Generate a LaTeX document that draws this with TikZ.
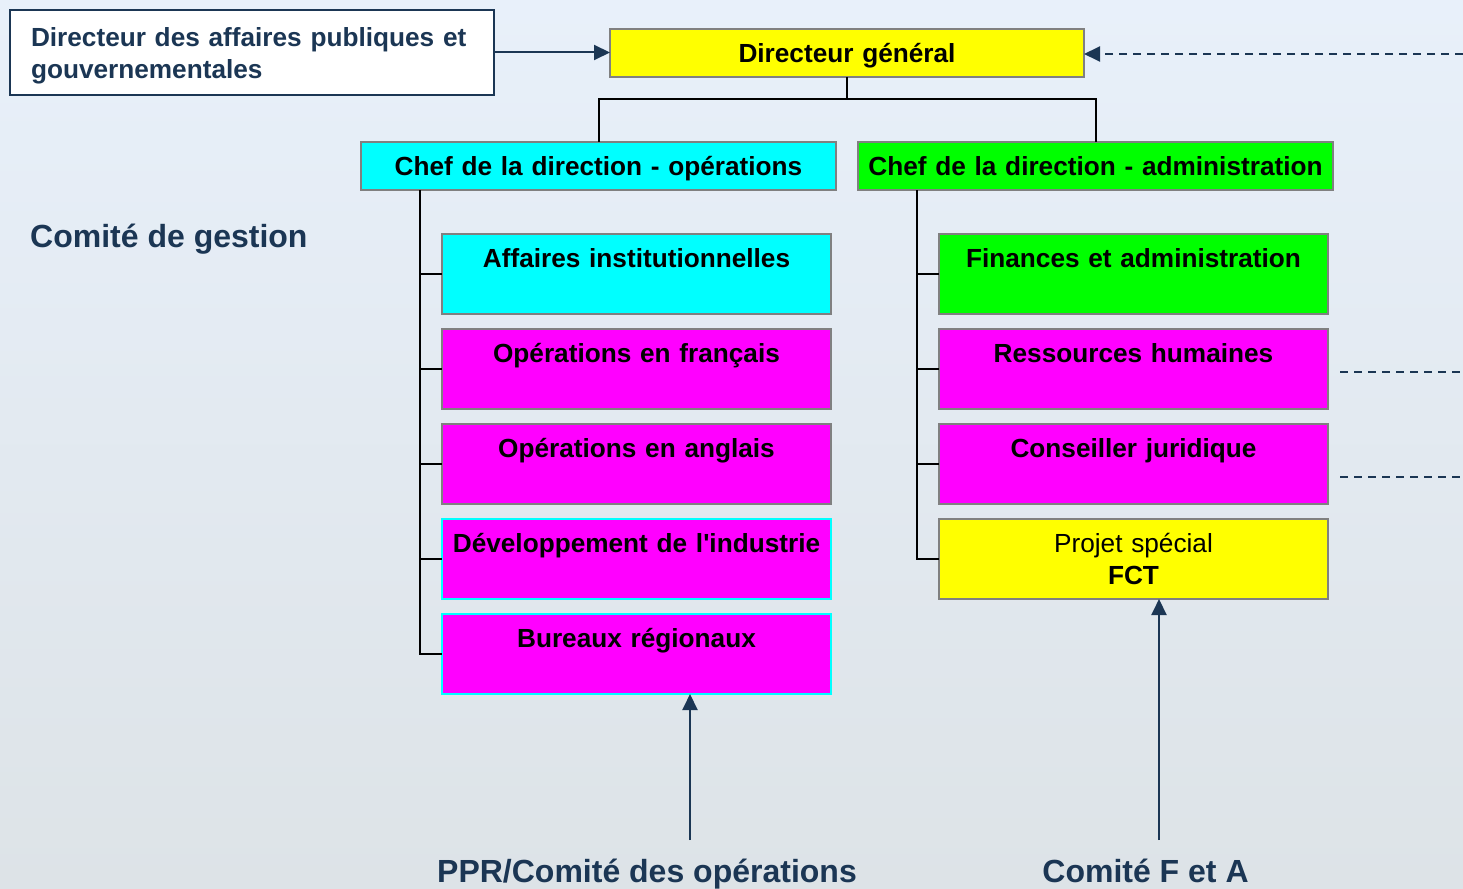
\documentclass[tikz,border=0pt]{standalone}
\usepackage{fontspec}
\setmainfont{Liberation Sans}
\usetikzlibrary{arrows.meta,positioning,calc}
\definecolor{navy}{RGB}{27,54,84}
\definecolor{boxgrey}{RGB}{128,128,128}
\definecolor{orgcyan}{RGB}{0,255,255}
\definecolor{orgmagenta}{RGB}{255,0,255}
\definecolor{orggreen}{RGB}{0,255,0}
\definecolor{orgyellow}{RGB}{255,255,0}
\definecolor{bgtop}{RGB}{232,240,250}
\definecolor{bgmid}{RGB}{241,246,249}
\definecolor{bgbot}{RGB}{221,227,231}
\tikzset{
  orgbox/.style = {draw=boxgrey, line width=1.8pt, inner sep=0pt, outer sep=0pt,
    align=center, text centered, font=\fontsize{26.2}{32}\selectfont\bfseries,
    minimum height=48pt},
  one_line/.style = {text height=19.5pt, text depth=0pt},
  chef_box/.style = {orgbox, one_line, text width=475pt},% chef de la direction
  unit_box/.style = {orgbox, text width=389pt, minimum height=80pt},% unite
  navy_txt/.style = {text=navy, inner sep=0pt, font=\fontsize{32}{38}\selectfont\bfseries},
  link/.style = {draw=black, line width=2pt},
  feed/.style = {draw=navy, line width=2pt, -{Triangle[length=16pt,width=15pt]}},
  feed_dash/.style = {draw=navy, line width=2pt, dash pattern=on 8pt off 6pt}
}

\begin{document}
\begin{tikzpicture}[x=1pt,y=-1pt]
  \fill[top color=bgtop, middle color=bgmid, bottom color=bgbot] (0,0) rectangle (1463,888);
  \useasboundingbox (0,0) rectangle (1463,888);
  % direction
  \node [orgbox, one_line, fill=orgyellow, text width=474pt](dg) at (847,53) {Directeur général};
  \node [draw=navy, line width=2pt, fill=white, inner xsep=21pt, inner ysep=0pt,
    minimum height=85pt, text width=442pt, align=left, text=navy, text depth=31.5pt,
    font=\fontsize{26.2}{32}\selectfont\bfseries](dapg) at (252,52.5)
    {Directeur des affaires publiques et\\gouvernementales};
  \node [chef_box, fill=orgcyan](chef_ops) at (598.5,166) {Chef de la direction - opérations};
  \node [chef_box, fill=orggreen](chef_adm) at (1095.5,166) {Chef de la direction - administration};
  \node [navy_txt, anchor=base west](cdg) at (30,247.5) {Comité de gestion};
  % operations
  \node [unit_box, fill=orgcyan](ops_a) at (636.5,274) {Affaires institutionnelles\\~};
  \node [unit_box, fill=orgmagenta, below=15pt of ops_a](ops_b) {Opérations en français\\~};
  \node [unit_box, fill=orgmagenta, below=15pt of ops_b](ops_c) {Opérations en anglais\\~};
  \node [unit_box, fill=orgmagenta, draw=orgcyan, below=15pt of ops_c](ops_d) {Développement de l\textquotesingle industrie\\~};
  \node [unit_box, fill=orgmagenta, draw=orgcyan, below=15pt of ops_d](ops_e) {Bureaux régionaux\\~};
  % administration
  \node [unit_box, fill=orggreen](adm_a) at (1133.5,274) {Finances et administration\\~};
  \node [unit_box, fill=orgmagenta, below=15pt of adm_a](adm_b) {Ressources humaines\\~};
  \node [unit_box, fill=orgmagenta, below=15pt of adm_b](adm_c) {Conseiller juridique\\~};
  \node [unit_box, fill=orgyellow, below=15pt of adm_c](adm_d) {{\mdseries Projet spécial}\\FCT};
  % comites
  \node [navy_txt, anchor=base](ppr) at (647,882.5) {PPR/Comité des opérations};
  \node [navy_txt, anchor=base](cfa) at (1145.5,882.5) {Comité F et A};
  \coordinate (ops_trunk) at (420,190);
  \coordinate (adm_trunk) at (917,190);
  \coordinate (ppr_tail) at (690,840);
  \coordinate (cfa_tail) at (1159,840);
  \coordinate (dg_in) at (1463,54);
  \coordinate (rh_out) at (1340,372);
  \coordinate (rh_end) at (1463,372);
  \coordinate (cj_out) at (1340,477);
  \coordinate (cj_end) at (1463,477);
  % liens
  \draw [link] (dg.south) -- ++(0,22) -| (chef_ops.north);
  \draw [link] (dg.south) -- ++(0,22) -| (chef_adm.north);
  \foreach \n in {a,b,c,d,e}
    \draw [link] (ops_trunk) |- (ops_\n.west);
  \foreach \n in {a,b,c,d}
    \draw [link] (adm_trunk) |- (adm_\n.west);
  \draw [feed] (dapg.east) -- (dapg.east -| dg.west);
  \draw [feed, dash pattern=on 8pt off 6pt] (dg_in) -- (dg_in -| dg.east);
  \draw [feed_dash] (rh_out) -- (rh_end);
  \draw [feed_dash] (cj_out) -- (cj_end);
  \draw [feed] (ppr_tail) -- (ppr_tail |- ops_e.south);
  \draw [feed] (cfa_tail) -- (cfa_tail |- adm_d.south);
\end{tikzpicture}
\end{document}
